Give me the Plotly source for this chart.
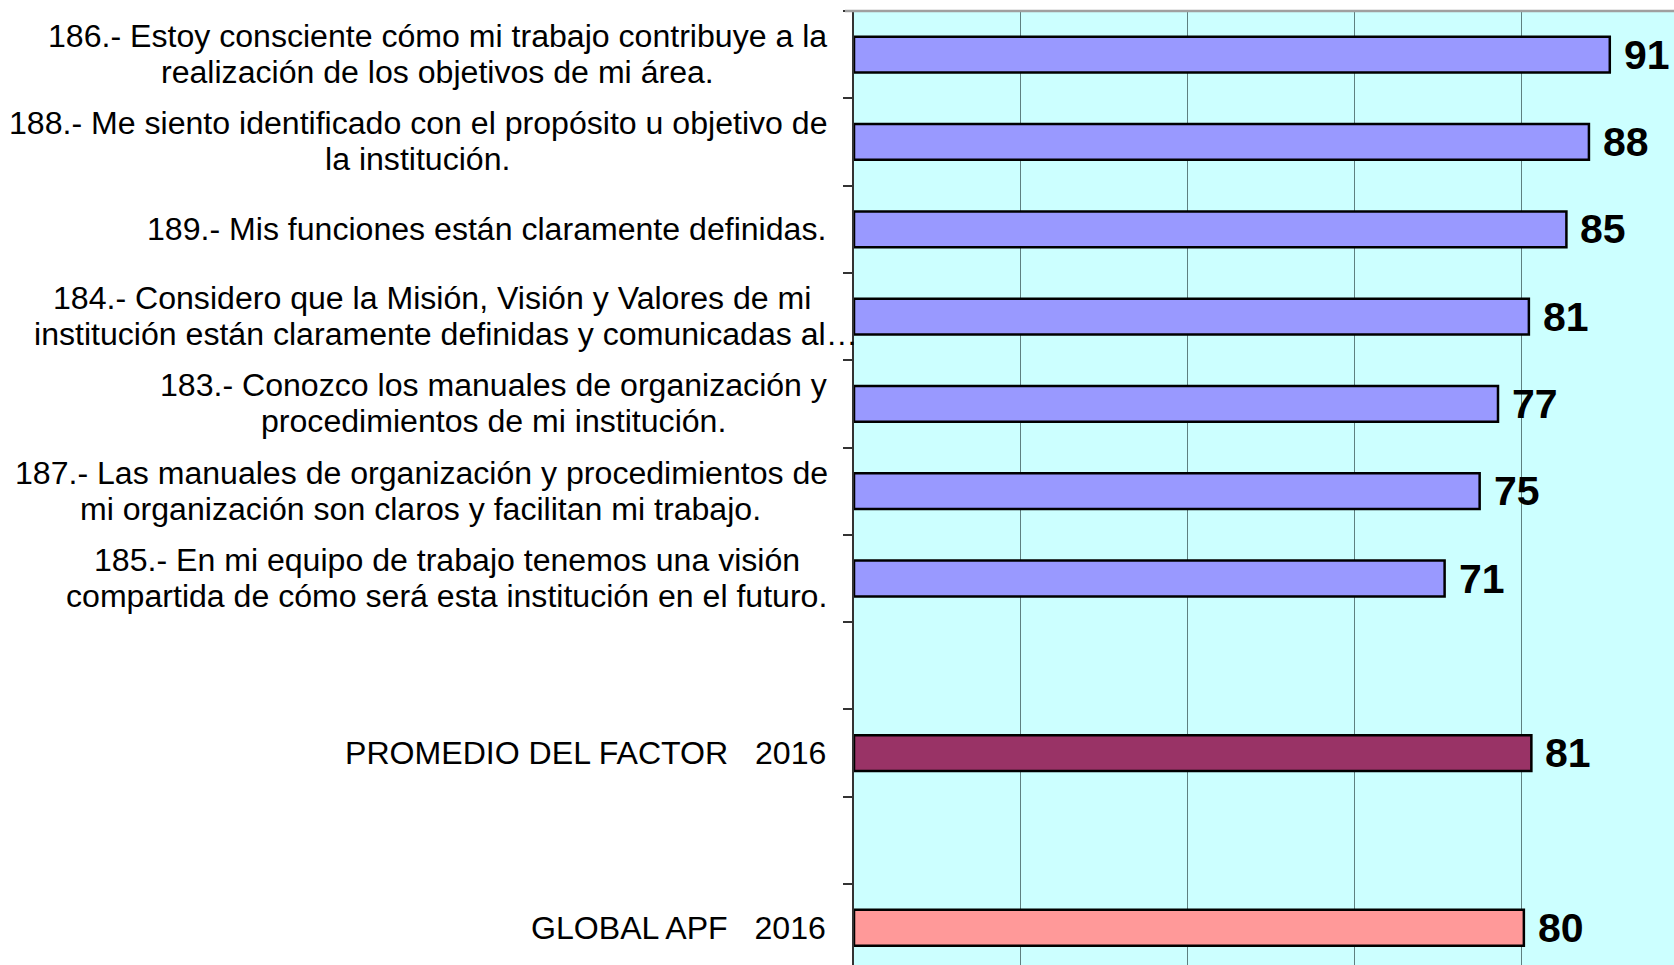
import plotly.graph_objects as go

# ---- data ----
categories = ["186", "188", "189", "184", "183", "187", "185", " ", "PROMEDIO", "  ", "GLOBAL"]
label_lines = [
    ["186.- Estoy consciente cómo mi trabajo contribuye a la", "realización de los objetivos de mi área."],
    ["188.- Me siento identificado con el propósito u objetivo de", "la institución."],
    ["189.- Mis funciones están claramente definidas."],
    ["184.- Considero que la Misión, Visión y Valores de mi", "institución están claramente definidas y comunicadas al…"],
    ["183.- Conozco los manuales de organización y", "procedimientos de mi institución."],
    ["187.- Las manuales de organización y procedimientos de", "mi organización son claros y facilitan mi trabajo."],
    ["185.- En mi equipo de trabajo tenemos una visión", "compartida de cómo será esta institución en el futuro."],
    [],
    ["PROMEDIO DEL FACTOR   2016"],
    [],
    ["GLOBAL APF   2016"],
]
values = [90.6, 88.1, 85.4, 80.9, 77.2, 75.0, 70.8, None, 81.2, None, 80.3]
bar_colors = ["#9999FF"] * 7 + ["#9999FF", "#993366", "#9999FF", "#FF9999"]

# layout constants (pixels)
W, H = 1674, 965
L, T = 854, 11
PLOT_W = W - L
PX_PER_UNIT = 8.342
X_MAX = PLOT_W / PX_PER_UNIT
CAT_PX = 87.31
Y_BOTTOM = -0.5 + (H - T) / CAT_PX

# horizontal centres (px) of each label's lines; None => right aligned block
line_centers_px = [
    [437.7, 437.2],
    [418.0, 417.5],
    None,
    [432.4, 445.7],
    [493.8, 493.8],
    [421.2, 420.6],
    [446.8, 446.3],
    None, None, None, None,
]
RIGHT_PX = 828
LINE_GAP = 17.5

FONT = "Liberation Sans, Arial, sans-serif"

fig = go.Figure()
fig.add_trace(go.Bar(
    y=categories, x=values, orientation="h",
    marker=dict(color=bar_colors, line=dict(color="black", width=2.5)),
    width=0.41, hoverinfo="x+y", showlegend=False,
))

annotations = []
# value labels (y given as category index)
for idx, v in enumerate(values):
    if v is None:
        continue
    annotations.append(dict(
        x=v, y=idx, xref="x", yref="y", text=f"{round(v)}",
        xanchor="left", yanchor="middle", xshift=12, showarrow=False,
        font=dict(family=FONT, size=41, color="black", weight="bold"),
    ))


def px_to_paper(px):
    return (px - L) / PLOT_W


# category labels
for idx, (lines, centers) in enumerate(zip(label_lines, line_centers_px)):
    n = len(lines)
    for i, line in enumerate(lines):
        yshift = LINE_GAP + 1 if (n == 2 and i == 0) else (-LINE_GAP if n == 2 else 0)
        if centers is None:
            xp, xa = px_to_paper(RIGHT_PX), "right"
        else:
            xp, xa = px_to_paper(centers[i]), "center"
        annotations.append(dict(
            x=xp, y=idx, xref="paper", yref="y", text=line,
            xanchor=xa, yanchor="middle", yshift=yshift, showarrow=False,
            font=dict(family=FONT, size=32.1, color="black"),
        ))

fig.update_layout(
    width=W, height=H,
    margin=dict(l=L, r=0, t=T, b=0, pad=0),
    paper_bgcolor="white", plot_bgcolor="#CCFFFF",
    annotations=annotations,
    shapes=[dict(type="line", xref="paper", yref="paper", x0=-0.011, x1=1, y0=1, y1=1,
                 line=dict(color="#A0A0A0", width=2.5))],
    xaxis=dict(range=[0, X_MAX], dtick=20, tick0=0, showgrid=True,
               gridcolor="#5f8080", gridwidth=1, zeroline=False,
               showticklabels=False, showline=False, ticks=""),
    yaxis=dict(type="category", categoryorder="array", categoryarray=categories,
               range=[Y_BOTTOM, -0.5], autorange=False,
               tickson="boundaries", ticks="outside", ticklen=9, tickwidth=1.5,
               tickcolor="#333333", showticklabels=False, showgrid=False,
               showline=True, linecolor="#333333", linewidth=2, zeroline=False),
)

fig.write_html(
    "out.html",
    config={"displayModeBar": False},
    post_script="document.body.style.margin='0';document.body.style.overflow='hidden';",
)
